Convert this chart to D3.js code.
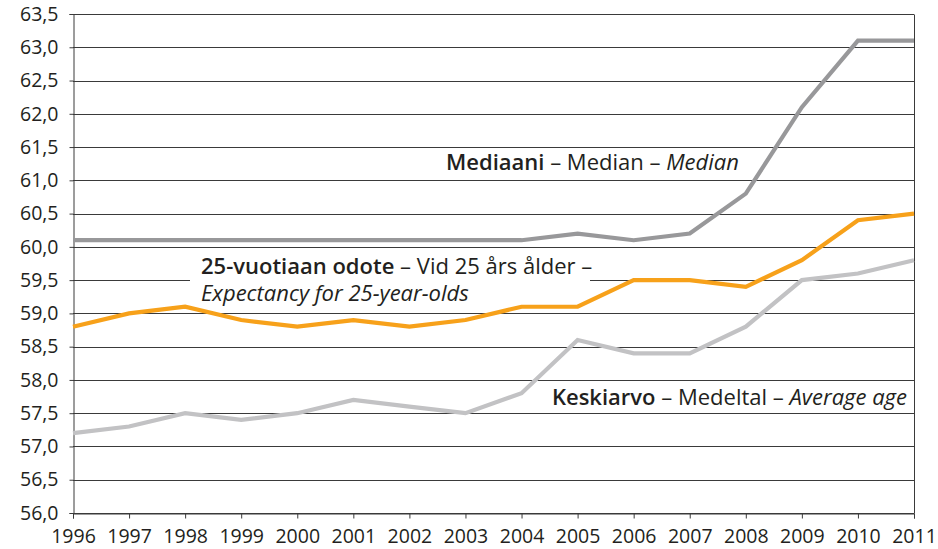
<!DOCTYPE html>
<html>
<head>
<meta charset="utf-8">
<script src="https://cdn.jsdelivr.net/npm/d3@7"></script>
<style>
body { margin: 0; background: #fff; }
svg { font-family: "Open Sans", sans-serif; }
</style>
</head>
<body>
<svg id="chart" width="938" height="549"></svg>
<script>
var years = [1996,1997,1998,1999,2000,2001,2002,2003,2004,2005,2006,2007,2008,2009,2010,2011];
var median = [60.1,60.1,60.1,60.1,60.1,60.1,60.1,60.1,60.1,60.2,60.1,60.2,60.8,62.1,63.1,63.1];
var expect25 = [58.8,59.0,59.1,58.9,58.8,58.9,58.8,58.9,59.1,59.1,59.5,59.5,59.4,59.8,60.4,60.5];
var average = [57.2,57.3,57.5,57.4,57.5,57.7,57.6,57.5,57.8,58.6,58.4,58.4,58.8,59.5,59.6,59.8];
var yTicks = [56.0,56.5,57.0,57.5,58.0,58.5,59.0,59.5,60.0,60.5,61.0,61.5,62.0,62.5,63.0,63.5];

var plotL = 73, plotR = 914, plotT = 14, plotB = 513;
var svg = d3.select("#chart");
var x = d3.scaleLinear().domain([1996, 2011]).range([plotL, plotR]);
var y = d3.scaleLinear().domain([56, 63.5]).range([plotB, plotT]);
var fmt = function(d){ return d3.format(".1f")(d).replace(".", ","); };
var ink = "#3a3a3a";

// gridlines
svg.append("g").selectAll("line").data(yTicks).enter().append("line")
    .attr("x1", plotL).attr("x2", plotR)
    .attr("y1", function(d){ return Math.round(y(d)) + 0.5; })
    .attr("y2", function(d){ return Math.round(y(d)) + 0.5; })
    .attr("stroke", ink).attr("stroke-width", 1);

// right border
svg.append("line").attr("x1", plotR + 0.5).attr("x2", plotR + 0.5)
    .attr("y1", Math.round(y(63.5)) + 0.5).attr("y2", Math.round(y(56)) + 0.5)
    .attr("stroke", ink);

// y axis
var yAxis = svg.append("g").attr("transform", "translate(" + (plotL + 0.5) + ",0)")
    .call(d3.axisLeft(y).tickValues(yTicks).tickFormat(fmt).tickSize(4).tickPadding(11));
// x axis
var xAxis = svg.append("g").attr("transform", "translate(0," + (Math.round(y(56)) + 0.5) + ")")
    .call(d3.axisBottom(x).tickValues(years).tickFormat(d3.format("d")).tickSize(5).tickPadding(11));
[yAxis, xAxis].forEach(function(a){
    a.select(".domain").attr("stroke", ink);
    a.selectAll(".tick line").attr("stroke", ink);
    a.selectAll("text").attr("fill", "#231f20").style("font-size", "19.5px")
        .style("font-family", "'Open Sans', sans-serif");
});

// white box behind 25-year label
svg.append("rect").attr("x", 190).attr("y", 255).attr("width", 400).attr("height", 47)
    .attr("fill", "#fff");

var line = d3.line().x(function(d, i){ return x(years[i]); }).y(function(d){ return y(d); });
[[average, "#c2c2c4"], [median, "#98989a"], [expect25, "#f7a11a"]].forEach(function(s){
    svg.append("path").datum(s[0]).attr("d", line)
        .attr("fill", "none").attr("stroke", s[1]).attr("stroke-width", 4.2)
        .attr("stroke-linejoin", "miter");
});

function label(xp, yp, parts, anchor){
    var t = svg.append("text").attr("x", xp).attr("y", yp)
        .attr("fill", "#231f20").style("font-size", "22px")
        .attr("text-anchor", anchor || "start");
    parts.forEach(function(p){
        var ts = t.append("tspan").text(p[0]);
        if (p[1] === "b") ts.attr("font-weight", 600);
        if (p[1] === "i") ts.attr("font-style", "italic");
    });
}
label(446, 170, [["Mediaani", "b"], [" – Median – ", ""], ["Median", "i"]]);
label(201, 274, [["25-vuotiaan odote", "b"], [" – Vid 25 års ålder –", ""]]);
label(201, 301, [["Expectancy for 25-year-olds", "i"]]);
label(907, 405, [["Keskiarvo", "b"], [" – Medeltal – ", ""], ["Average age", "i"]], "end");
</script>
</body>
</html>
